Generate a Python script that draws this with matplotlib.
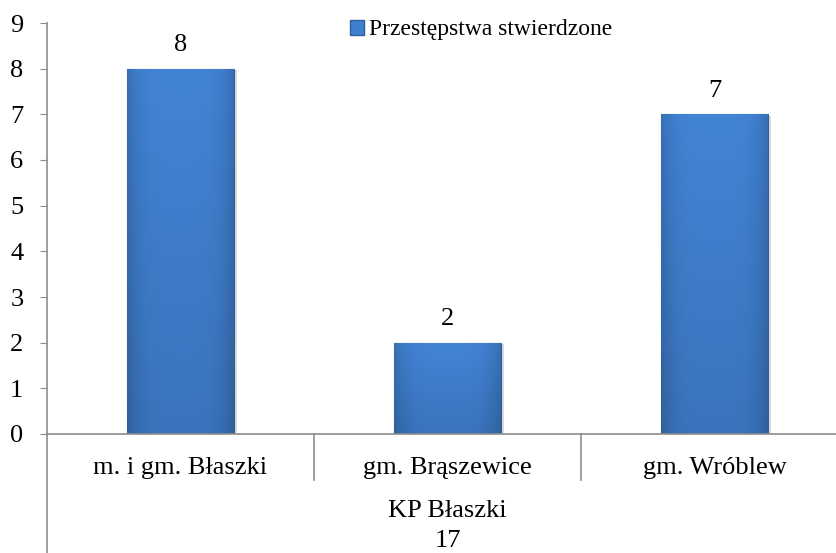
import matplotlib
matplotlib.use("Agg")
import matplotlib.pyplot as plt
import numpy as np
from matplotlib.transforms import blended_transform_factory
from matplotlib.patches import Patch

plt.rcParams['font.family'] = ['Liberation Serif', 'DejaVu Serif']

categories = ["m. i gm. Błaszki", "gm. Brąszewice", "gm. Wróblew"]
values = [8, 2, 7]
group_label = "KP Błaszki\n17"
series_name = "Przestępstwa stwierdzone"
yticks = list(range(0, 10))

W, H = 836, 553
fig = plt.figure(figsize=(W / 100, H / 100), dpi=100)
ax = fig.add_axes([47 / W, 1 - 434 / H, (836 - 47) / W, (434 - 23) / H])

axis_color = "#8c8c8c"
x = np.arange(len(categories))
bar_w = 0.40
bars = ax.bar(x, values, width=bar_w, color="#3f7fcf", edgecolor="#2d5f9e",
              linewidth=0.8, zorder=2)

# gradient fill clipped to each bar
for b in bars:
    bx, by = b.get_x(), b.get_y()
    bw, bh = b.get_width(), b.get_height()
    nx, ny = 60, 200
    xs = np.linspace(-1, 1, nx)
    ys = np.linspace(0, 1, ny)
    X, Y = np.meshgrid(xs, ys)
    shade = 1 - 0.15 * np.abs(X) ** 4 - 0.12 * (1 - Y)
    base = np.array([0x42, 0x84, 0xd6]) / 255.0
    img = np.clip(shade[..., None] * base, 0, 1)
    im = ax.imshow(img, extent=[bx, bx + bw, by, by + bh], origin="lower",
                   aspect="auto", zorder=2.5, interpolation="bilinear")
    im.set_clip_path(b)
    # shadow
    ax.bar(bx + bw / 2 + 0.012, bh, width=bw, bottom=by - 0.04, color="#b8b8b8",
           alpha=0.5, zorder=1.5, linewidth=0)

for xi, v in zip(x, values):
    ax.annotate(str(v), (xi, v), xytext=(0, 17), textcoords="offset points",
                ha="center", va="center", fontsize=19)

ax.set_xlim(-0.5, 2.455)
ax.set_ylim(0, 9)
ax.set_yticks(yticks)
ax.set_yticklabels([str(t) for t in yticks], fontsize=19)
ax.tick_params(axis="y", direction="out", length=5, color=axis_color, pad=12)
ax.set_xticks(x)
ax.set_xticklabels(categories, fontsize=19)
ax.tick_params(axis="x", length=0, pad=16.5)

for s in ["top", "right"]:
    ax.spines[s].set_visible(False)
for s in ["left", "bottom"]:
    ax.spines[s].set_color(axis_color)
    ax.spines[s].set_linewidth(1.2)

trans = blended_transform_factory(ax.transData, ax.transAxes)
ax_h_px = 434 - 23
sep_len = 46 / ax_h_px
for sx in [0.5, 1.5]:
    ax.plot([sx, sx], [0, -sep_len], transform=trans, color=axis_color,
            lw=1.2, clip_on=False)
ax.plot([-0.5, -0.5], [0, -(553 - 434) / ax_h_px - 0.01], transform=trans,
        color=axis_color, lw=1.2, clip_on=False)

ax.text(1.0, -(526 - 434) / ax_h_px, group_label, transform=trans,
        ha="center", va="center", fontsize=19, linespacing=1.45)

handle = Patch(facecolor="#3f7fcf", edgecolor="#2d5f9e")
ax.legend([handle], [series_name], loc="center left",
          bbox_to_anchor=(350 / W, 1 - 30 / H), bbox_transform=fig.transFigure,
          frameon=False, fontsize=17, handlelength=0.6, handleheight=0.6,
          handletextpad=0.2, borderaxespad=0, borderpad=0)

fig.savefig("out.png", dpi=100)
